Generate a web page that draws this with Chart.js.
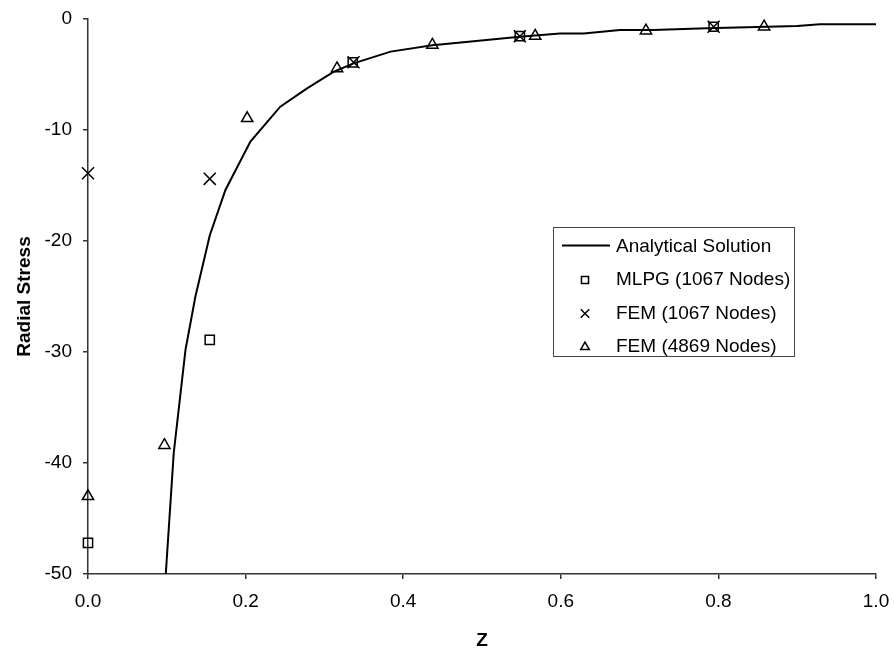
<!DOCTYPE html>
<html>
<head>
<meta charset="utf-8">
<title>Radial Stress</title>
<script src="https://cdn.jsdelivr.net/npm/chart.js@4.4.0/dist/chart.umd.min.js"></script>
<style>
    html, body { margin: 0; padding: 0; background: #fff; }
    canvas { display: block; }
</style>
</head>
<body>
<canvas id="stress" width="894" height="652"></canvas>
<script>
// analytical solution
const analyticZ = [0.0987, 0.1088, 0.1237, 0.1363, 0.1545, 0.1744, 0.2061, 0.2440, 0.2780, 0.3120, 0.3370, 0.3840, 0.4390, 0.4470, 0.5480, 0.5990, 0.6290, 0.6750, 0.7170, 0.7850, 0.9000, 0.9290, 1.0000];
const analyticS = [-50, -39.1, -29.8, -25.0, -19.5, -15.4, -11.05, -7.9, -6.25, -4.75, -4.0, -2.94, -2.35, -2.3, -1.6, -1.3, -1.3, -1.0, -1.0, -0.84, -0.63, -0.48, -0.48];

// MLPG (1067 Nodes)
const mlpgZ = [0, 0.1545, 0.336, 0.548, 0.794];
const mlpgS = [-47.2, -28.9, -3.9, -1.55, -0.7];

// FEM (1067 Nodes)
const fem1Z = [0, 0.1545, 0.337, 0.548, 0.794];
const fem1S = [-13.9, -14.4, -3.9, -1.55, -0.7];

// FEM (4869 Nodes)
const fem2Z = [0, 0.097, 0.202, 0.316, 0.437, 0.5675, 0.708, 0.858];
const fem2S = [-43.0, -38.4, -8.95, -4.45, -2.34, -1.53, -1.05, -0.69];

const xTicks = [0, 0.2, 0.4, 0.6, 0.8, 1.0];
const yTicks = [0, -10, -20, -30, -40, -50];

const seriesNames = ['Analytical Solution', 'MLPG (1067 Nodes)', 'FEM (1067 Nodes)', 'FEM (4869 Nodes)'];

function toPoints(xs, ys) {
    return xs.map((x, i) => ({ x: x, y: ys[i] }));
}

Chart.defaults.font.family = "'Liberation Sans', Arial, sans-serif";
Chart.defaults.font.size = 19;
Chart.defaults.color = '#000';

const markerStyle = {
    showLine: false,
    borderColor: '#000',
    backgroundColor: 'rgba(0,0,0,0)',
    borderWidth: 1.5,
    pointBorderWidth: 1.5,
    clip: false
};

// the scales would otherwise reserve room for the end labels
function noLabelPadding(scale) {
    scale.paddingTop = 0;
    scale.paddingBottom = 0;
    scale.paddingLeft = 0;
    scale.paddingRight = 0;
}

// legend drawn inside the plot, like the original
const legendBox = {
    id: 'legendBox',
    afterDraw(chart) {
        const ctx = chart.ctx;
        const left = 553.5, top = 227.5, w = 241, h = 129;
        const rows = [245.5, 279, 312.5, 346];
        ctx.save();
        ctx.fillStyle = '#fff';
        ctx.fillRect(left, top, w, h);
        ctx.strokeStyle = '#444';
        ctx.lineWidth = 1;
        ctx.strokeRect(left, top, w, h);

        ctx.font = "19px 'Liberation Sans', Arial, sans-serif";
        ctx.textBaseline = 'middle';
        ctx.textAlign = 'left';
        chart.data.datasets.forEach((ds, i) => {
            const y = rows[i];
            ctx.strokeStyle = '#000';
            ctx.fillStyle = 'rgba(0,0,0,0)';
            if (i === 0) {
                ctx.lineWidth = 2;
                ctx.beginPath();
                ctx.moveTo(562, y);
                ctx.lineTo(610, y);
                ctx.stroke();
            } else {
                ctx.lineWidth = 1.5;
                Chart.helpers.drawPoint(ctx, {
                    pointStyle: ds.pointStyle,
                    radius: ds.pointStyle === 'crossRot' ? 6 : 5,
                    rotation: 0,
                    borderWidth: 1.5
                }, 585, y + 1);
            }
            ctx.fillStyle = '#000';
            ctx.fillText(ds.label, 616, y + 1);
        });
        ctx.restore();
    }
};

const ctx = document.getElementById('stress');
const stressChart = new Chart(ctx, {
    type: 'scatter',
    data: {
        datasets: [
            {
                label: seriesNames[0],
                data: toPoints(analyticZ, analyticS),
                showLine: true,
                borderColor: '#000',
                borderWidth: 2,
                pointRadius: 0,
                tension: 0
            },
            Object.assign({
                label: seriesNames[1],
                data: toPoints(mlpgZ, mlpgS),
                pointStyle: 'rect',
                pointRadius: 6.5
            }, markerStyle),
            Object.assign({
                label: seriesNames[2],
                data: toPoints(fem1Z, fem1S),
                pointStyle: 'crossRot',
                pointRadius: 8.5
            }, markerStyle),
            Object.assign({
                label: seriesNames[3],
                data: toPoints(fem2Z, fem2S),
                pointStyle: 'triangle',
                pointRadius: 6.5
            }, markerStyle)
        ]
    },
    options: {
        responsive: false,
        animation: false,
        layout: {
            padding: { top: 19, right: 18, left: 0, bottom: 0 }
        },
        plugins: {
            legend: { display: false },
            tooltip: { enabled: false }
        },
        scales: {
            x: {
                type: 'linear',
                min: xTicks[0],
                max: xTicks[xTicks.length - 1],
                afterBuildTicks: scale => {
                    scale.ticks = xTicks.map(v => ({ value: v }));
                },
                ticks: {
                    padding: 11,
                    callback: value => value.toFixed(1)
                },
                grid: { drawOnChartArea: false, tickLength: 5, color: '#333', lineWidth: 1.5 },
                border: { color: '#333', width: 1.5 },
                title: {
                    display: true,
                    text: 'Z',
                    font: { size: 19, weight: 'bold' },
                    padding: 0
                },
                afterFit: scale => {
                    scale.height = 78;
                    noLabelPadding(scale);
                }
            },
            y: {
                type: 'linear',
                min: yTicks[yTicks.length - 1],
                max: yTicks[0],
                afterBuildTicks: scale => {
                    scale.ticks = yTicks.slice().reverse().map(v => ({ value: v }));
                },
                ticks: {
                    padding: 11,
                    callback: value => String(value)
                },
                grid: { drawOnChartArea: false, tickLength: 5, color: '#333', lineWidth: 1.5 },
                border: { color: '#333', width: 1.5 },
                title: {
                    display: true,
                    text: 'Radial Stress',
                    font: { size: 19, weight: 'bold' },
                    padding: { top: 13, bottom: 0 }
                },
                afterFit: scale => {
                    scale.width = 88;
                    noLabelPadding(scale);
                }
            }
        }
    },
    plugins: [legendBox]
});
</script>
</body>
</html>
